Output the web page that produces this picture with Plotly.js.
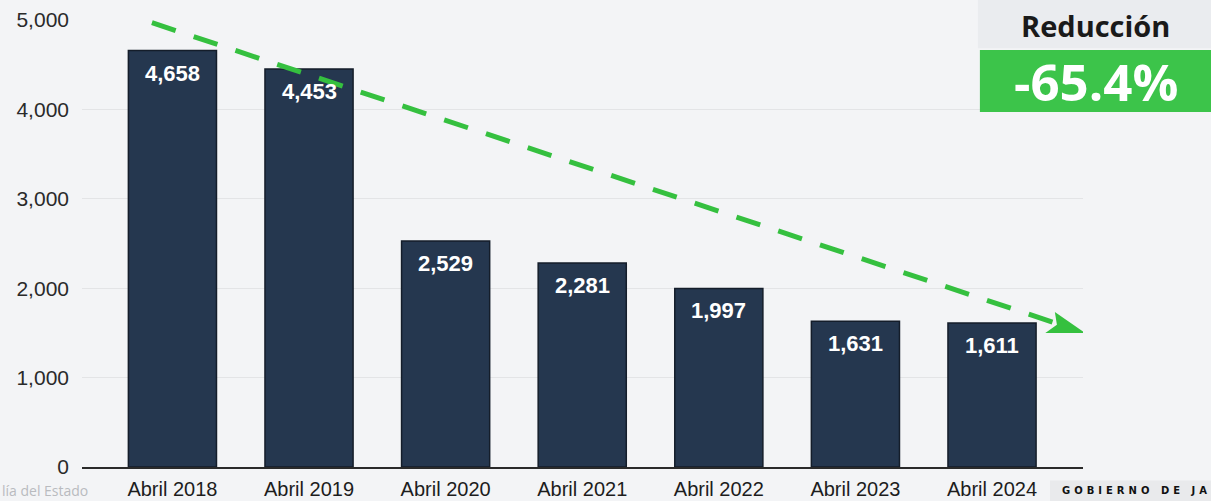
<!DOCTYPE html>
<html>
<head>
<meta charset="utf-8">
<script src="https://cdn.plot.ly/plotly-3.0.1.min.js"></script>
<style>html,body{margin:0;padding:0;background:#f3f4f6;}#chart{width:1211px;height:501px;}</style>
</head>
<body>
<div id="chart"></div>
<script>
const categories = ["Abril 2018","Abril 2019","Abril 2020","Abril 2021","Abril 2022","Abril 2023","Abril 2024"];
const values = [4658, 4453, 2529, 2281, 1997, 1631, 1611];
const yTickVals = [0, 1000, 2000, 3000, 4000, 5000];
const yTickText = ["0", "1,000", "2,000", "3,000", "4,000", "5,000"];
const trendStart = {x: -0.15, y: 4970};
const trendEnd = {x: 6.68, y: 1500};
const reductionTitle = "Reducción";
const reductionValue = "-65.4%";
const sourceText = "lía del Estado";
const brandText = "GOBIERNO DE JA";

const xIdx = categories.map((c, i) => i);
const fmt = v => v.toLocaleString("en-US");
const spaced = s => s.split("").join("\u2009\u2009");

const bars = {
  type: "bar",
  x: xIdx,
  y: values,
  marker: {color: "#25374f", line: {color: "#141d2a", width: 1.5}},
  width: 0.645,
  hoverinfo: "skip",
  showlegend: false
};

const labelAnnots = values.map((v, i) => ({
  x: i, y: v, xref: "x", yref: "y",
  text: "<b>" + fmt(v) + "</b>",
  showarrow: false, xanchor: "center", yanchor: "top", yshift: -8,
  font: {family: "Liberation Sans, Arial, sans-serif", size: 22, color: "#ffffff"}
}));

const dx = trendEnd.x - trendStart.x, dy = trendEnd.y - trendStart.y;
const headPath = "M " + trendEnd.x + " " + trendEnd.y +
  " L " + (trendEnd.x - 0.22) + " " + (trendEnd.y + 235) +
  " L " + (trendEnd.x - 0.205) + " " + (trendEnd.y + 90) +
  " L " + (trendEnd.x - 0.29) + " " + (trendEnd.y) + " Z";

const layout = {
  width: 1211, height: 501,
  paper_bgcolor: "#f3f4f6",
  plot_bgcolor: "#f3f4f6",
  margin: {l: 82, r: 128, t: 20, b: 34},
  xaxis: {
    type: "linear",
    range: [-0.662, 6.666],
    tickvals: xIdx,
    ticktext: categories,
    showgrid: false, zeroline: false,
    showline: true, linecolor: "#2a2a2a", linewidth: 1.5,
    ticks: "",
    ticklabelstandoff: 3,
    tickfont: {family: "Liberation Sans, Arial, sans-serif", size: 20, color: "#1d1d1d"},
    fixedrange: true
  },
  yaxis: {
    range: [0, 5000],
    tickvals: yTickVals,
    ticktext: yTickText,
    showgrid: true, gridcolor: "#e3e4e6", gridwidth: 1,
    zeroline: false, showline: false,
    ticks: "",
    ticklabelstandoff: 12,
    tickfont: {family: "Liberation Sans, Arial, sans-serif", size: 21, color: "#2a2a2a"},
    fixedrange: true
  },
  shapes: [
    {type: "line", xref: "x", yref: "y", x0: trendStart.x, y0: trendStart.y,
     x1: trendEnd.x - 0.2, y1: trendEnd.y + (dy / dx) * (-0.2),
     line: {color: "#35c03f", width: 5, dash: "25px,19px"}},
    {type: "path", xref: "x", yref: "y", path: headPath,
     fillcolor: "#35c03f", line: {width: 0}},
    {type: "rect", xref: "paper", yref: "paper", x0: 0.895, x1: 1.13, y0: 0.937, y1: 1.045,
     fillcolor: "#eaecef", line: {width: 0}},
    {type: "rect", xref: "paper", yref: "paper", x0: 0.897, x1: 1.13, y0: 0.794, y1: 0.933,
     fillcolor: "#3cc44a", line: {width: 0}},
    {type: "rect", xref: "paper", yref: "paper", x0: 0.967, x1: 1.13, y0: -0.076, y1: -0.03,
     fillcolor: "#e9eaec", line: {width: 0}}
  ],
  annotations: labelAnnots.concat([
    {xref: "paper", yref: "paper", x: 1.012, y: 0.987, xanchor: "center", yanchor: "middle", text: "<b>" + reductionTitle + "</b>",
     showarrow: false, font: {family: "Open Sans, sans-serif", size: 29, color: "#1a1a1a"}},
    {xref: "paper", yref: "paper", x: 1.013, y: 0.864, xanchor: "center", yanchor: "middle", text: "<b>" + reductionValue + "</b>",
     showarrow: false, font: {family: "Open Sans, sans-serif", size: 51, color: "#ffffff"}},
    {xref: "paper", yref: "paper", x: -0.082, y: -0.052, xanchor: "left", yanchor: "middle", text: sourceText,
     showarrow: false, font: {family: "Open Sans, sans-serif", size: 14, color: "#b9bbbf"}},
    {xref: "paper", yref: "paper", x: 1.126, y: -0.053, xanchor: "right", yanchor: "middle", text: "<b>" + spaced(brandText) + "</b>",
     showarrow: false, font: {family: "DejaVu Sans, sans-serif", size: 10, color: "#111"}}
  ])
};

Plotly.newPlot("chart", [bars], layout, {displayModeBar: false, staticPlot: true});
</script>
</body>
</html>
